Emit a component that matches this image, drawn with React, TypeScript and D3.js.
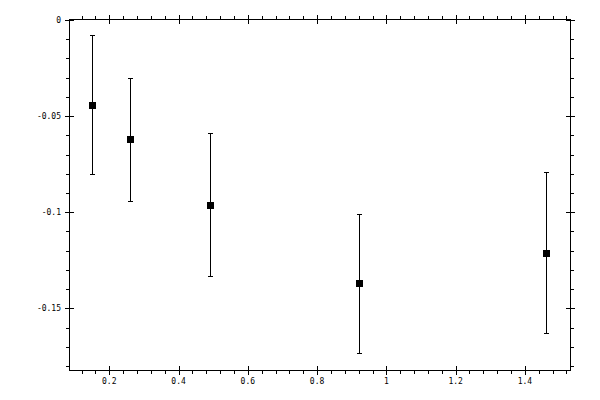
import React from "react";
import * as d3 from "d3";

const xValues = [0.151, 0.26, 0.491, 0.921, 1.46];
const yValues = [-0.0443, -0.0619, -0.0963, -0.1369, -0.1213];
const upperValues = [-0.0078, -0.0303, -0.0589, -0.101, -0.0793];
const lowerValues = [-0.080, -0.0941, -0.1331, -0.1733, -0.1627];

const xMajorTicks = [0.2, 0.4, 0.6, 0.8, 1.0, 1.2, 1.4];
const xTickLabels = ["0.2", "0.4", "0.6", "0.8", "1", "1.2", "1.4"];
const yMajorTicks = [0, -0.05, -0.1, -0.15];
const yTickLabels = ["0", "-0.05", "-0.1", "-0.15"];

const xDomain = [0.0837, 1.5302];
const yDomain = [-0.1821, 0.00052];

export default function App() {
  const W = 600, H = 400;
  const left = 69, right = 570, top = 19, bottom = 370;
  const x = d3.scaleLinear().domain(xDomain).range([left, right]);
  const y = d3.scaleLinear().domain(yDomain).range([bottom, top]);

  const xMinor: number[] = [];
  for (let i = Math.ceil(xDomain[0] / 0.04); i * 0.04 <= xDomain[1]; i++) {
    const v = i * 0.04;
    if (Math.abs(v / 0.2 - Math.round(v / 0.2)) > 1e-6) xMinor.push(v);
  }
  const yMinor: number[] = [];
  for (let i = Math.ceil(yDomain[0] / 0.01); i * 0.01 <= yDomain[1]; i++) {
    const v = i * 0.01;
    if (Math.abs(v / 0.05 - Math.round(v / 0.05)) > 1e-6) yMinor.push(v);
  }
  const font = { fontFamily: "DejaVu Sans Mono", fontSize: 8 };
  const r = (v: number) => Math.round(v) + 0.5;

  return (
    <svg width={W} height={H} style={{ position: "absolute", left: 0, top: 0, background: "#fff" }} shapeRendering="crispEdges">
      <rect x={0} y={0} width={W} height={H} fill="#fff" />
      <rect x={left + 0.5} y={top + 0.5} width={right - left} height={bottom - top} fill="none" stroke="#000" strokeWidth={1} />
      {/* bottom & top ticks */}
      {xMajorTicks.map((v, i) => (
        <g key={"xm" + i}>
          <line x1={r(x(v))} x2={r(x(v))} y1={bottom - 4} y2={bottom + 5} stroke="#000" />
          <line x1={r(x(v))} x2={r(x(v))} y1={top - 4} y2={top + 5} stroke="#000" />
          <text x={x(v)} y={384} textAnchor="middle" {...font}>{xTickLabels[i]}</text>
        </g>
      ))}
      {xMinor.map((v, i) => (
        <g key={"xn" + i}>
          <line x1={r(x(v))} x2={r(x(v))} y1={bottom} y2={bottom + 4} stroke="#000" />
          <line x1={r(x(v))} x2={r(x(v))} y1={top - 3} y2={top + 1} stroke="#000" />
        </g>
      ))}
      {yMajorTicks.map((v, i) => (
        <g key={"ym" + i}>
          <line x1={left - 4} x2={left + 5} y1={r(y(v))} y2={r(y(v))} stroke="#000" />
          <line x1={right - 4} x2={right + 5} y1={r(y(v))} y2={r(y(v))} stroke="#000" />
          <text x={61} y={y(v) + 3} textAnchor="end" {...font}>{yTickLabels[i]}</text>
        </g>
      ))}
      {yMinor.map((v, i) => (
        <g key={"yn" + i}>
          <line x1={left - 3} x2={left + 1} y1={r(y(v))} y2={r(y(v))} stroke="#000" />
          <line x1={right} x2={right + 4} y1={r(y(v))} y2={r(y(v))} stroke="#000" />
        </g>
      ))}
      {/* error bars */}
      {xValues.map((xv, i) => {
        const cx = r(x(xv));
        return (
          <g key={"e" + i}>
            <line x1={cx} x2={cx} y1={y(upperValues[i])} y2={y(lowerValues[i])} stroke="#000" />
            <line x1={cx - 2.5} x2={cx + 2.5} y1={r(y(upperValues[i]))} y2={r(y(upperValues[i]))} stroke="#000" />
            <line x1={cx - 2.5} x2={cx + 2.5} y1={r(y(lowerValues[i]))} y2={r(y(lowerValues[i]))} stroke="#000" />
            <rect x={Math.round(x(xv)) - 3} y={Math.round(y(yValues[i])) - 3} width={7} height={7} fill="#000" />
          </g>
        );
      })}
    </svg>
  );
}
